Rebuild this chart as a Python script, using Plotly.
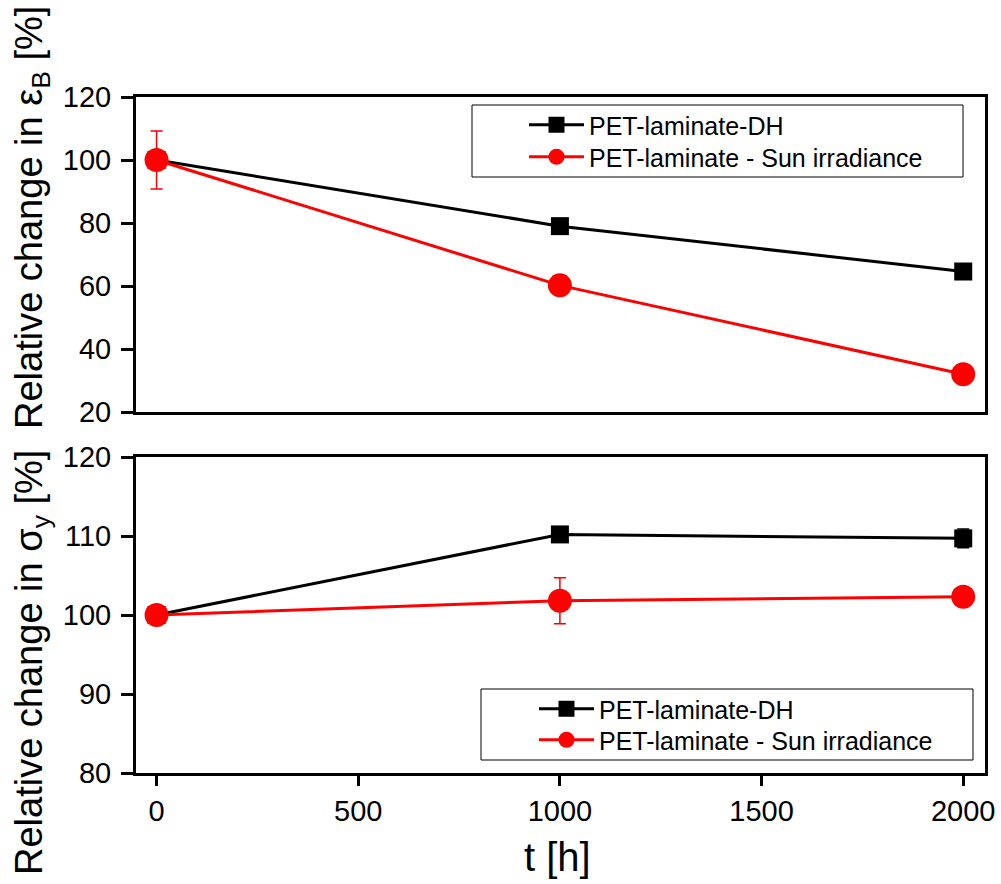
import plotly.graph_objects as go
from plotly.subplots import make_subplots

t_hours = [0, 1000, 2000]

# Top panel: relative change in elongation at break
eps_dh = [100.0, 79.0, 64.6]
eps_dh_err = [0.8, 0.6, 0.6]
eps_sun = [100.0, 60.2, 32.0]
eps_sun_err = [9.2, 0.0, 0.0]

# Bottom panel: relative change in yield stress
sig_dh = [100.0, 110.2, 109.7]
sig_dh_err = [0.5, 0.3, 1.2]
sig_sun = [100.0, 101.8, 102.3]
sig_sun_err = [0.5, 2.9, 0.0]

name_dh = "PET-laminate-DH"
name_sun = "PET-laminate - Sun irradiance"

FONT = "Arial, Liberation Sans, sans-serif"

fig = make_subplots(rows=2, cols=1, shared_xaxes=False, vertical_spacing=0.0)

def add_series(row, y, err, name, color, symbol, size, legend):
    fig.add_trace(go.Scatter(
        x=t_hours, y=y, name=name, mode="lines+markers",
        line=dict(color=color, width=3),
        marker=dict(color=color, symbol=symbol, size=size),
        error_y=dict(type="data", array=err, visible=True, color=color,
                     thickness=1.5, width=6),
        legend=legend, showlegend=True,
    ), row=row, col=1)

add_series(1, eps_dh, eps_dh_err, name_dh, "black", "square", 18, "legend")
add_series(1, eps_sun, eps_sun_err, name_sun, "red", "circle", 24, "legend2")
add_series(2, sig_dh, sig_dh_err, name_dh, "black", "square", 18, "legend3")
add_series(2, sig_sun, sig_sun_err, name_sun, "red", "circle", 24, "legend4")

# plot area: x 136..985, y 97..773 px
L, R, T, B = 136, 16, 97, 111
W, H = 1001, 884
ph = H - T - B
top_dom = [(ph - 315) / ph, 1.0]
bot_dom = [0.0, 316 / ph]

axcommon = dict(showline=True, linecolor="black", linewidth=3, mirror=True,
                showgrid=False, zeroline=False, automargin=False,
                tickfont=dict(family=FONT, size=29, color="black"))

fig.update_xaxes(range=[-51, 2054], tickvals=[0, 500, 1000, 1500, 2000],
                 ticks="outside", ticklen=10, tickwidth=3, tickcolor="black",
                 **axcommon)
fig.update_xaxes(showticklabels=False, ticks="", row=1, col=1)
fig.update_yaxes(ticks="outside", ticklen=12, tickwidth=3, tickcolor="black",
                 ticklabelstandoff=4, **axcommon)
fig.update_yaxes(range=[20, 120], tickvals=[20, 40, 60, 80, 100, 120],
                 domain=top_dom, row=1, col=1)
fig.update_yaxes(range=[80, 120], tickvals=[80, 90, 100, 110, 120],
                 domain=bot_dom, row=2, col=1)

def px_x(p):
    return (p - L) / (W - L - R)

def px_y(p):
    return (H - B - p) / ph

shapes = []
for (x0, y0, x1, y1) in [(472, 105, 963, 177), (481, 689, 973, 760)]:
    shapes.append(dict(type="rect", xref="paper", yref="paper",
                       x0=px_x(x0), x1=px_x(x1), y0=px_y(y1), y1=px_y(y0),
                       line=dict(color="black", width=1), fillcolor="rgba(0,0,0,0)"))

legstyle = dict(bgcolor="rgba(0,0,0,0)", borderwidth=0,
                font=dict(family=FONT, size=25, color="black"),
                itemwidth=55, xanchor="left", yanchor="middle")

fig.update_layout(
    width=W, height=H,
    margin=dict(l=L, r=R, t=T, b=B, autoexpand=False),
    plot_bgcolor="white", paper_bgcolor="white",
    shapes=shapes,
    legend=dict(x=px_x(524), y=px_y(125), **legstyle),
    legend2=dict(x=px_x(524), y=px_y(157), **legstyle),
    legend3=dict(x=px_x(534), y=px_y(709), **legstyle),
    legend4=dict(x=px_x(534), y=px_y(740), **legstyle),
    annotations=[
        dict(text="Relative change in ε<sub>B</sub> [%]", xref="paper", yref="paper",
             x=px_x(32), y=px_y(218), textangle=-90, showarrow=False,
             xanchor="center", yanchor="middle",
             font=dict(family=FONT, size=38, color="black")),
        dict(text="Relative change in σ<sub>y</sub> [%]", xref="paper", yref="paper",
             x=px_x(32), y=px_y(663), textangle=-90, showarrow=False,
             xanchor="center", yanchor="middle",
             font=dict(family=FONT, size=38, color="black")),
        dict(text="t [h]", xref="paper", yref="paper",
             x=px_x(557), y=px_y(857), showarrow=False,
             xanchor="center", yanchor="middle",
             font=dict(family=FONT, size=40, color="black")),
    ],
)

fig.write_html("out.html", config={"displayModeBar": False},
               post_script="document.body.style.margin='0';")
